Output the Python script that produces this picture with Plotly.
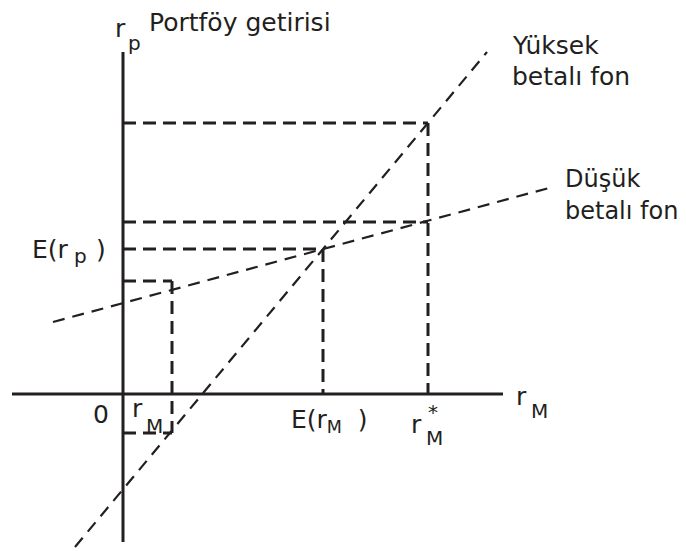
import plotly.graph_objects as go

# market return levels on the horizontal axis: r_M, E(r_M), r_M*
market_returns = [49, 200, 305]

# fund lines (endpoints)
high_beta_x = [-48, 364]
high_beta_y = [-153, 342]
low_beta_x = [-70, 426]
low_beta_y = [72, 206]

# dashed guide levels: horizontal guide from the vertical axis to (x, y)
guide_x = [305, 305, 200, 49, 49]
guide_y = [271, 172, 145, 113, -39]

# vertical guides: x, from y, to y
vguide_x = [305, 200, 49]
vguide_y0 = [271, 145, 113]
vguide_y1 = [0, 0, -39]

# axes extents
x_axis = [-111, 380]
y_axis = [-148, 342]

INK = "#231f20"
FONT = "DejaVu Sans, sans-serif"
PAGE_MARGIN = 8  # default body margin of the html page

fig = go.Figure()


def seg(xs, ys, width, dash=None):
    fig.add_trace(go.Scatter(x=xs, y=ys, mode="lines", hoverinfo="skip",
                             line=dict(color=INK, width=width, dash=dash)))


# axes
seg(x_axis, [0, 0], 3)
seg([0, 0], y_axis, 3)

# guides
for gx, gy in zip(guide_x, guide_y):
    seg([0, gx], [gy, gy], 3, "13px,7px")
for vx, v0, v1 in zip(vguide_x, vguide_y0, vguide_y1):
    seg([vx, vx], [v0, v1], 3, "13px,7px")

# fund lines
seg(high_beta_x, high_beta_y, 2.2, "12px,8px")
seg(low_beta_x, low_beta_y, 2.2, "12px,8px")


def label(text, px, base, size=25):
    # px = left edge in pixels, base = text baseline in pixels
    fig.add_annotation(x=px - 123, y=394 - (base - 0.35 * size), text=text,
                       showarrow=False, xanchor="left", yanchor="middle",
                       font=dict(family=FONT, size=size, color=INK))


label("r", 113, 37)
label("p", 126, 50, 20)
label("Portföy getirisi", 147, 31)

label("E(r", 30, 258)
label("p", 72, 263, 20)
label(")", 94, 258)

label("0", 91, 423)
label("r", 130, 417)
label("M", 144, 433, 20)

label("E(r<sub>M</sub>&nbsp;&nbsp;)", 289, 430)

label("r", 409, 433)
label("*", 426, 419, 20)
label("M", 424, 445, 20)

label("r", 514, 405)
label("M", 529, 418, 20)

label("Yüksek", 510, 54)
label("betalı fon", 510, 85)
label("Düşük", 563, 187, 24)
label("betalı fon", 563, 219, 24)

x0 = -123 + PAGE_MARGIN
y1 = 394 - PAGE_MARGIN
fig.update_layout(
    width=686, height=551,
    margin=dict(l=0, r=0, t=0, b=0),
    paper_bgcolor="white", plot_bgcolor="white",
    showlegend=False,
    xaxis=dict(range=[x0, x0 + 686], visible=False, fixedrange=True),
    yaxis=dict(range=[y1 - 551, y1], visible=False, fixedrange=True),
)

fig.write_html("out.html")
